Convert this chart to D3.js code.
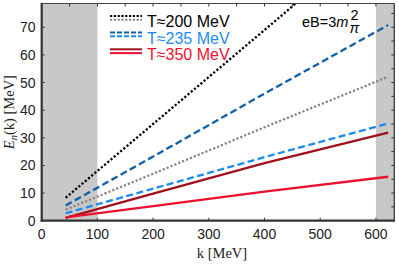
<!DOCTYPE html>
<html>
<head>
<meta charset="utf-8">
<style>
body { margin: 0; background: #fff; }
svg { display: block; }
.tick-label { font-family: "Liberation Sans", Arial, sans-serif; font-size: 14px; fill: #222; }
.legend-text { font-family: "Liberation Sans", Arial, sans-serif; font-size: 16px; }
.ann-text { font-family: "Liberation Sans", Arial, sans-serif; font-size: 14.5px; fill: #000; }
.axis-title { font-family: "Liberation Serif", "Times New Roman", serif; font-size: 14.5px; fill: #222; }
</style>
</head>
<body>
<script src="https://d3js.org/d3.v7.min.js"></script>
<script>
// data
var kVals = [43, 200, 400, 622];
var blackDot = [8.3, 35.0, 69.0, 107.0];   // T~200, upper
var grayDot = [4.0, 17.0, 33.8, 52.1];     // T~200, lower
var darkBlue = [5.5, 23.2, 46.0, 70.8];    // T~235, upper
var lightBlue = [2.7, 11.6, 23.0, 35.2];   // T~235, lower
var darkRed = [1.0, 9.8, 20.8, 31.9];      // T~350, upper
var red = [1.2, 5.3, 10.5, 15.9];          // T~350, lower
var xTicks = [0, 100, 200, 300, 400, 500, 600];
var yTicks = [0, 10, 20, 30, 40, 50, 60, 70];
var shaded = [[0, 100], [600, 633]];
var legendLabels = ["T\u2248200 MeV", "T\u2248235 MeV", "T\u2248350 MeV"];

var width = 399, height = 264;
var pL = 41.7, pR = 394.3, pT = 3.5, pB = 220.7;

var svg = d3.select("body").append("svg")
	.attr("width", width)
	.attr("height", height);

var x = d3.scaleLinear().domain([0, 633]).range([pL, pR]);
var y = d3.scaleLinear().domain([0, 78.6]).range([pB, pT]);

svg.append("defs").append("clipPath").attr("id", "plot")
	.append("rect")
	.attr("x", pL).attr("y", pT)
	.attr("width", pR - pL).attr("height", pB - pT);

// gray bands
svg.selectAll("rect.band")
	.data(shaded)
	.enter()
	.append("rect")
	.attr("class", "band")
	.attr("x", function(d) { return x(d[0]); })
	.attr("y", pT)
	.attr("width", function(d) { return x(d[1]) - x(d[0]); })
	.attr("height", pB - pT)
	.attr("fill", "#c8c8c8");

var series = [
	{vals: blackDot, color: "#000000", dash: "2.2,2"},
	{vals: darkBlue, color: "#1060a8", dash: "7,3.5"},
	{vals: grayDot, color: "#858585", dash: "2.2,2"},
	{vals: lightBlue, color: "#1a8cf0", dash: "7,3.5"},
	{vals: darkRed, color: "#a0101c", dash: null},
	{vals: red, color: "#ec1030", dash: null}
];

var line = d3.line()
	.x(function(d, i) { return x(kVals[i]); })
	.y(function(d) { return y(d); });

var lines = svg.append("g").attr("clip-path", "url(#plot)");
series.forEach(function(s) {
	lines.append("path")
		.attr("d", line(s.vals))
		.attr("fill", "none")
		.attr("stroke", s.color)
		.attr("stroke-width", 2.3)
		.attr("stroke-dasharray", s.dash);
});

// ticks (inward)
var g = svg.append("g").attr("stroke", "#333").attr("stroke-width", 1);
d3.range(0, 601, 50).forEach(function(k) {
	g.append("line").attr("x1", x(k)).attr("x2", x(k)).attr("y1", pT).attr("y2", pT + 3);
});
xTicks.forEach(function(k) {
	g.append("line").attr("x1", x(k)).attr("x2", x(k)).attr("y1", pB).attr("y2", pB - 3);
});
d3.range(0, 76, 5).forEach(function(v) {
	g.append("line").attr("x1", pR).attr("x2", pR - 3).attr("y1", y(v)).attr("y2", y(v));
});
yTicks.forEach(function(v) {
	g.append("line").attr("x1", pL).attr("x2", pL + 3).attr("y1", y(v)).attr("y2", y(v));
});

// frame
svg.append("line").attr("x1", pL).attr("x2", pR).attr("y1", pT).attr("y2", pT)
	.attr("stroke", "#444").attr("stroke-width", 1.2);
svg.append("line").attr("x1", pR).attr("x2", pR).attr("y1", pT).attr("y2", pB)
	.attr("stroke", "#444").attr("stroke-width", 1.4);
svg.append("line").attr("x1", pL).attr("x2", pL).attr("y1", pT - 0.6).attr("y2", pB + 1)
	.attr("stroke", "#333").attr("stroke-width", 2.2);
svg.append("line").attr("x1", pL - 1).attr("x2", pR + 0.7).attr("y1", pB).attr("y2", pB)
	.attr("stroke", "#333").attr("stroke-width", 2.2);

// tick labels
svg.selectAll("text.xt")
	.data(xTicks)
	.enter()
	.append("text")
	.attr("class", "tick-label")
	.attr("x", function(d) { return x(d); })
	.attr("y", 239)
	.attr("text-anchor", "middle")
	.text(function(d) { return d; });

svg.selectAll("text.yt")
	.data(yTicks)
	.enter()
	.append("text")
	.attr("class", "tick-label")
	.attr("x", 35.5)
	.attr("y", function(d) { return y(d) + 5; })
	.attr("text-anchor", "end")
	.text(function(d) { return d; });

// axis titles
var xt = svg.append("text")
	.attr("class", "axis-title")
	.attr("x", 222)
	.attr("y", 257.5)
	.attr("text-anchor", "middle");
xt.append("tspan").text("k [MeV]");

var yt = svg.append("text")
	.attr("class", "axis-title")
	.attr("transform", "translate(13.5," + ((pT + pB) / 2) + ") rotate(-90)")
	.attr("text-anchor", "middle");
yt.append("tspan").attr("font-style", "italic").text("E");
yt.append("tspan").attr("font-style", "italic").attr("font-size", "10.5px").attr("dy", 3).text("n");
yt.append("tspan").attr("dy", -3).text("(k) [MeV]");

// legend
var legendColors = [["#000000", "#858585"], ["#1060a8", "#1a8cf0"], ["#a0101c", "#ec1030"]];
var legendText = ["#000000", "#1a8cf0", "#ec1030"];
var legendDash = ["2.2,1.6", "5,2", null];
var rowY = [16, 32.5, 49.3];
legendLabels.forEach(function(lab, i) {
	legendColors[i].forEach(function(c, j) {
		svg.append("line")
			.attr("x1", 110).attr("x2", 142)
			.attr("y1", rowY[i] + j * 3.8).attr("y2", rowY[i] + j * 3.8)
			.attr("stroke", c)
			.attr("stroke-width", 2)
			.attr("stroke-dasharray", legendDash[i]);
	});
	svg.append("text")
		.attr("class", "legend-text")
		.attr("x", 147)
		.attr("y", rowY[i] + 11)
		.attr("fill", legendText[i])
		.text(lab);
});

// eB annotation
var ann = svg.append("text").attr("class", "ann-text").attr("x", 302).attr("y", 27);
ann.append("tspan").text("eB=3");
ann.append("tspan").attr("font-style", "italic").text("m");
svg.append("text").attr("class", "ann-text").attr("x", 350.5).attr("y", 19.5)
	.attr("font-size", "9.5px").text("2");
svg.append("text").attr("class", "ann-text").attr("x", 349.5).attr("y", 33)
	.attr("font-size", "9.5px").attr("font-style", "italic").text("\u03c0");
</script>
</body>
</html>
